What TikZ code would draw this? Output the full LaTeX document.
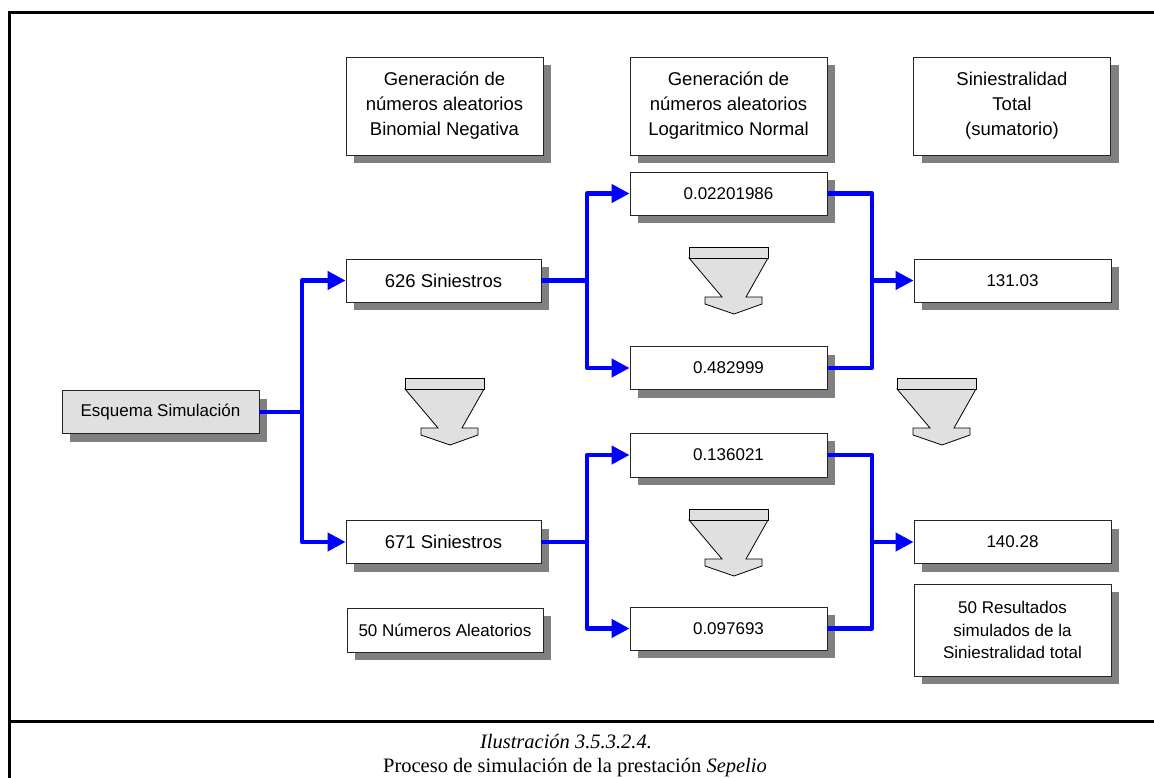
\documentclass[tikz,border=0pt]{standalone}
\usepackage{fontspec}
\setmainfont{Liberation Sans}
\newfontfamily\capfont{Liberation Serif}
\usetikzlibrary{arrows.meta,shadows}
\definecolor{shadowgray}{RGB}{128,128,128}
\definecolor{boxgray}{RGB}{224,224,224}
\definecolor{flowblue}{RGB}{0,0,255}

\tikzset{
  box/.style={draw=black!85, line width=0.9pt, fill=white, inner sep=0pt,
    align=center, minimum width=197pt, minimum height=43pt,
    font=\fontsize{17}{22.5}\selectfont,
    drop shadow={shadow xshift=8pt, shadow yshift=-8pt, fill=shadowgray, opacity=1}},
  headbox/.style={box, minimum height=98pt, font=\fontsize{18.5}{25}\selectfont},
  flow/.style={draw=flowblue, line width=4.3pt, line join=round},
  flowarrow/.style={flow, -{Triangle[length=18pt,width=18pt]}},
  bigdown/.pic={
    \filldraw[fill=boxgray, draw=black, line width=0.8pt]
      (0,11) -- (79,11) -- (57,50) -- (73,50) -- (73,57) -- (45,67)
      -- (16,57) -- (16,50) -- (33,50) -- cycle;
    \filldraw[fill=boxgray, draw=black, line width=0.8pt]
      (0,0) rectangle (79,11);
  }
}

\begin{document}
\begin{tikzpicture}[x=1pt,y=-1pt]
\useasboundingbox (0,0) rectangle (1154,778);

% outer frame and caption separator
\draw[line width=3pt] (9,778) -- (9,13) -- (1154,13);
\draw[line width=3pt] (9,721.5) -- (1154,721.5);

% column headings
\node[headbox] (h1) at (444.5,106) {Generación de\\números aleatorios\\Binomial Negativa};
\node[headbox] (h2) at (728.5,106) {Generación de\\números aleatorios\\Logaritmico Normal};
\node[headbox] (h3) at (1012,106) {Siniestralidad\\Total\\(sumatorio)};

% start
\node[box, fill=boxgray] (esq) at (160.5,412) {Esquema Simulación};

% number of claims
\node[box, minimum width=195pt, font=\fontsize{18.5}{22}\selectfont] (s626) at (443.5,280.5) {626 Siniestros};
\node[box, minimum width=195pt, font=\fontsize{18.5}{22}\selectfont] (s671) at (443.5,542) {671 Siniestros};
\node[box, minimum width=196pt, minimum height=44pt] (n50) at (445,630) {50 Números Aleatorios};

% claim amounts
\node[box] (v1) at (728.5,193.5) {0.02201986};
\node[box] (v2) at (728.5,368) {0.482999};
\node[box, minimum height=44pt] (v3) at (728.5,455) {0.136021};
\node[box] (v4) at (728.5,628.5) {0.097693};

% totals
\node[box] (r1) at (1012.5,280.5) {131.03};
\node[box] (r2) at (1012.5,542) {140.28};
\node[box, minimum height=92pt] (r3) at (1012.5,630) {50 Resultados\\simulados de la\\Siniestralidad total};

% repetition arrows
\pic at (689,247) {bigdown};
\pic at (689,509) {bigdown};
\pic at (405,378) {bigdown};
\pic at (897,378) {bigdown};

% branching points
\coordinate (j0) at (302,412);
\coordinate (j1) at (587,280.5);
\coordinate (j2) at (872,280.5);
\coordinate (j3) at (587,542);
\coordinate (j4) at (872,542);

% connectors
\draw[flow] (esq.east) -- (j0);
\draw[flowarrow] (j0) |- (s626);
\draw[flowarrow] (j0) |- (s671);

\draw[flow] (s626.east) -- (j1);
\draw[flowarrow] (j1) |- (v1);
\draw[flowarrow] (j1) |- (v2);
\draw[flow] (v1.east) -| (j2);
\draw[flow] (v2.east) -| (j2);
\draw[flowarrow] (j2) -- (r1);

\draw[flow] (s671.east) -- (j3);
\draw[flowarrow] (j3) |- (v3);
\draw[flowarrow] (j3) |- (v4);
\draw[flow] (v3.east) -| (j4);
\draw[flow] (v4.east) -| (j4);
\draw[flowarrow] (j4) -- (r2);

% caption
\node[anchor=base, inner sep=0pt, font=\capfont\itshape\fontsize{20.5}{24}\selectfont] (cap1) at (566,748) {Ilustración 3.5.3.2.4.};
\node[anchor=base, inner sep=0pt, font=\capfont\fontsize{20.5}{24}\selectfont] (cap2) at (575,772) {Proceso de simulación de la prestación \textit{Sepelio}};
\end{tikzpicture}
\end{document}
